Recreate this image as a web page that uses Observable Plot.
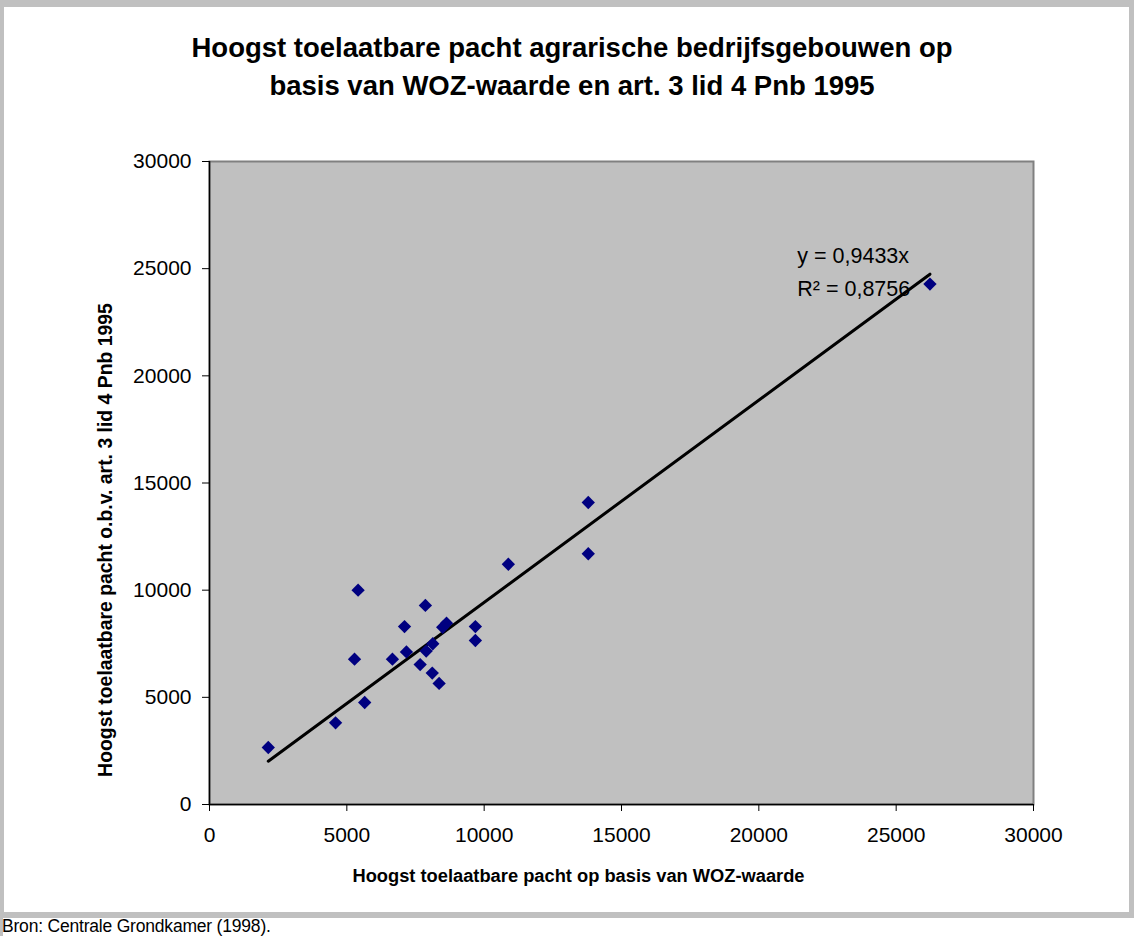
<!DOCTYPE html>
<html>
<head>
<meta charset="utf-8">
<script src="https://cdn.jsdelivr.net/npm/d3@7"></script>
<script src="https://cdn.jsdelivr.net/npm/@observablehq/plot@0.6"></script>
<style>
  html, body { margin: 0; padding: 0; background: #fff; }
  body { width: 1134px; height: 936px; position: relative; overflow: hidden; font-family: "Liberation Sans", Arial, sans-serif; }
  #frame { position: absolute; left: 0; top: 0; width: 1134px; height: 918px; box-sizing: border-box;
           border-left: 4px solid #c0c0c0; border-right: 5px solid #c0c0c0; border-top: 7px solid #c0c0c0; border-bottom: 6px solid #c0c0c0; }
  #leftcap { position: absolute; left: 0; top: 918px; width: 3px; height: 18px; background: #c0c0c0; }
  #title { position: absolute; left: 0; top: 29px; width: 1144px; text-align: center; font-weight: bold; font-size: 27.5px; line-height: 38px; color: #000; }
  #chart { position: absolute; left: 0; top: 110px; }
  #caption { position: absolute; left: 2px; top: 916px; font-size: 17.5px; color: #000; white-space: nowrap; letter-spacing: -0.2px; }
</style>
</head>
<body>
<div id="frame"></div>
<div id="leftcap"></div>
<div id="title">Hoogst toelaatbare pacht agrarische bedrijfsgebouwen op<br>basis van WOZ-waarde en art. 3 lid 4 Pnb 1995</div>
<div id="chart"></div>
<div id="caption">Bron: Centrale Grondkamer (1998).</div>
<script>
// Data
const xValues = [2140, 4590, 5650, 5280, 5410, 6660, 7100, 7170, 7860, 7890, 7670, 8110, 8130, 8360, 8490, 8630, 9680, 9680, 10880, 13790, 13790, 26230];
const yValues = [2660, 3810, 4760, 6780, 10000, 6780, 8300, 7120, 9290, 7160, 6530, 6130, 7500, 5650, 8270, 8460, 8300, 7650, 11210, 14090, 11700, 24280];
const trendSlope = 0.9433;
const equationLabels = ["y = 0,9433x", "R² = 0,8756"];
const xTicks = [0, 5000, 10000, 15000, 20000, 25000, 30000];
const yTicks = [0, 5000, 10000, 15000, 20000, 25000, 30000];
const xTitle = "Hoogst toelaatbare pacht op basis van WOZ-waarde";
const yTitle = "Hoogst toelaatbare pacht o.b.v. art. 3 lid 4 Pnb 1995";

const points = xValues.map((x, i) => ({x, y: yValues[i]}));
const xExtent = d3.extent(xValues);
const trend = xExtent.map(x => ({x, y: trendSlope * x}));

const fmt = d3.format("d");

const chart = Plot.plot({
  width: 1134,
  height: 790,
  marginLeft: 209,
  marginRight: 101,
  marginTop: 51,
  marginBottom: 96,
  style: { fontFamily: "'Liberation Sans', Arial, sans-serif", fontSize: "21px", color: "#000", background: "transparent", overflow: "visible" },
  x: { domain: [0, 30000], label: null },
  y: { domain: [0, 30000], label: null },
  marks: [
    Plot.frame({ fill: "#c0c0c0", stroke: "#808080", strokeWidth: 2 }),
    Plot.ruleX([0], { stroke: "#000", strokeWidth: 1.5 }),
    Plot.ruleY([0], { stroke: "#000", strokeWidth: 1.5 }),
    Plot.axisX({ ticks: xTicks, tickFormat: fmt, tickSize: 7, tickPadding: 16, label: null, fontSize: 21, stroke: "#000" }),
    Plot.axisY({ ticks: yTicks, tickFormat: fmt, tickSize: 7, tickPadding: 11, label: null, fontSize: 21, stroke: "#000" }),
    Plot.line(trend, { x: "x", y: "y", stroke: "#000", strokeWidth: 3 }),
    Plot.dot(points, { x: "x", y: "y", symbol: "diamond2", r: 6, fill: "#000080", stroke: "none" }),
    Plot.text([equationLabels[0]], { text: d => d, x: 21400, y: 25570, textAnchor: "start", fontSize: 21.5 }),
    Plot.text([equationLabels[1]], { text: d => d, x: 21400, y: 24030, textAnchor: "start", fontSize: 21.5 }),
    Plot.text([xTitle], { text: d => d, frameAnchor: "bottom", textAnchor: "middle", lineAnchor: "middle", dx: -43, dy: 72, fontWeight: "bold", fontSize: 18.3 }),
    Plot.text([yTitle], { text: d => d, frameAnchor: "left", textAnchor: "middle", lineAnchor: "middle", rotate: -90, dx: -104, dy: 57, fontWeight: "bold", fontSize: 19.4 })
  ]
});
document.getElementById("chart").appendChild(chart);
</script>
</body>
</html>
